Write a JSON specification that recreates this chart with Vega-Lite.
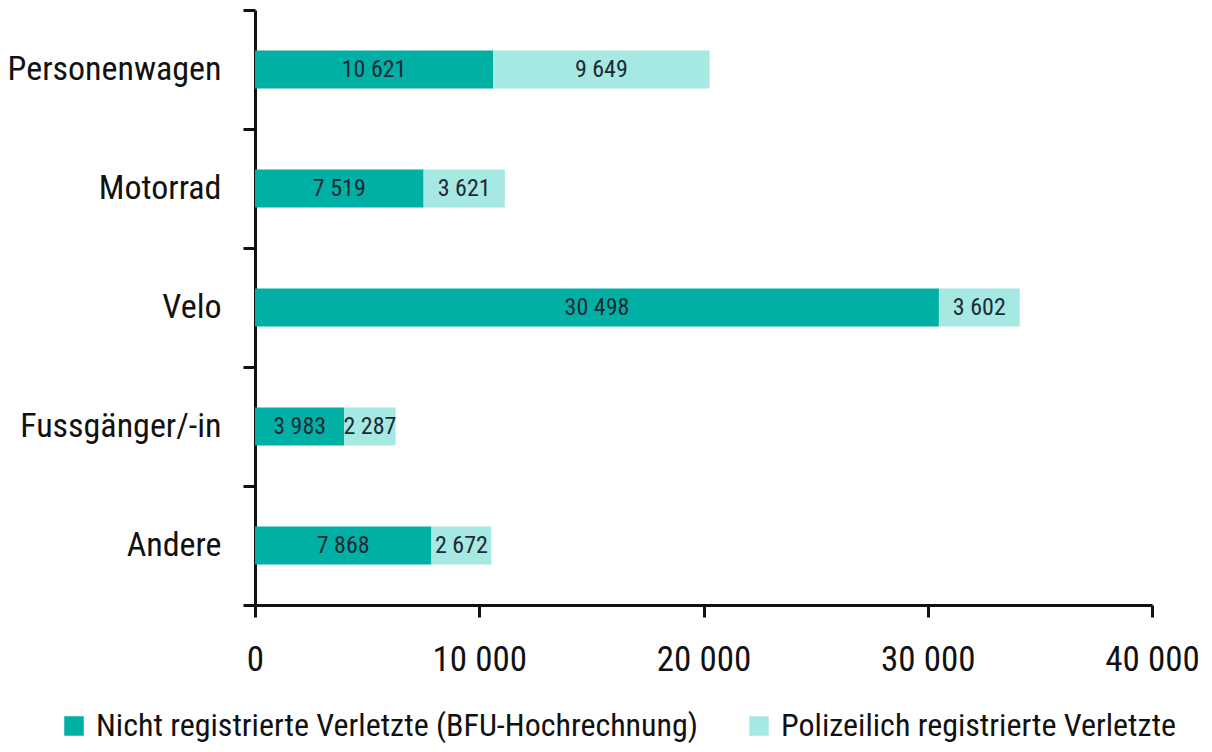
{
  "$schema": "https://vega.github.io/schema/vega-lite/v6.json",
  "width": 897,
  "height": 595,
  "autosize": {"type": "none"},
  "padding": {"left": 255, "top": 10, "right": 60, "bottom": 147},
  "background": "white",
  "config": {
    "locale": {"number": {"decimal": ",", "thousands": " ", "grouping": [3], "currency": ["", ""]}},
    "font": "Roboto Condensed, DejaVu Sans Condensed, Roboto, sans-serif",
    "view": {"stroke": null}
  },
  "data": {
    "values": [
      {"Kategorie": "Personenwagen", "Serie": "Nicht registrierte Verletzte (BFU-Hochrechnung)", "o": 1, "Wert": 10621},
      {"Kategorie": "Personenwagen", "Serie": "Polizeilich registrierte Verletzte", "o": 2, "Wert": 9649},
      {"Kategorie": "Motorrad", "Serie": "Nicht registrierte Verletzte (BFU-Hochrechnung)", "o": 1, "Wert": 7519},
      {"Kategorie": "Motorrad", "Serie": "Polizeilich registrierte Verletzte", "o": 2, "Wert": 3621},
      {"Kategorie": "Velo", "Serie": "Nicht registrierte Verletzte (BFU-Hochrechnung)", "o": 1, "Wert": 30498},
      {"Kategorie": "Velo", "Serie": "Polizeilich registrierte Verletzte", "o": 2, "Wert": 3602},
      {"Kategorie": "Fussgänger/-in", "Serie": "Nicht registrierte Verletzte (BFU-Hochrechnung)", "o": 1, "Wert": 3983},
      {"Kategorie": "Fussgänger/-in", "Serie": "Polizeilich registrierte Verletzte", "o": 2, "Wert": 2287},
      {"Kategorie": "Andere", "Serie": "Nicht registrierte Verletzte (BFU-Hochrechnung)", "o": 1, "Wert": 7868},
      {"Kategorie": "Andere", "Serie": "Polizeilich registrierte Verletzte", "o": 2, "Wert": 2672}
    ]
  },
  "transform": [
    {"stack": "Wert", "groupby": ["Kategorie"], "sort": [{"field": "o", "order": "ascending"}], "as": ["x0", "x1"]},
    {"calculate": "(datum.x0 + datum.x1) / 2", "as": "xm"}
  ],
  "encoding": {
    "y": {
      "field": "Kategorie",
      "type": "nominal",
      "sort": ["Personenwagen", "Motorrad", "Velo", "Fussgänger/-in", "Andere"],
      "scale": {"paddingInner": 0, "paddingOuter": 0},
      "axis": {
        "title": null,
        "domainColor": "#111111",
        "domainWidth": 3,
        "tickColor": "#111111",
        "tickWidth": 3,
        "tickSize": 12,
        "tickBand": "extent",
        "labelFontSize": 34,
        "labelColor": "#111111",
        "labelPadding": 22,
        "labelLimit": 400
      }
    }
  },
  "layer": [
    {
      "mark": {"type": "bar", "height": {"band": 0.32}},
      "encoding": {
        "x": {
          "field": "x0",
          "type": "quantitative",
          "scale": {"domain": [0, 40000], "nice": false},
          "axis": {
            "title": null,
            "values": [0, 10000, 20000, 30000, 40000],
            "format": ",d",
            "grid": false,
            "domainColor": "#111111",
            "domainWidth": 3,
            "tickColor": "#111111",
            "tickWidth": 3,
            "tickSize": 12,
            "labelFontSize": 35,
            "labelColor": "#111111",
            "labelPadding": 25,
            "labelFlush": false
          }
        },
        "x2": {"field": "x1"},
        "color": {
          "field": "Serie",
          "type": "nominal",
          "sort": ["Nicht registrierte Verletzte (BFU-Hochrechnung)", "Polizeilich registrierte Verletzte"],
          "scale": {"range": ["#00b0a4", "#a6e8e2"]},
          "legend": {
            "title": null,
            "orient": "none",
            "legendX": -197,
            "legendY": 700,
            "direction": "horizontal",
            "symbolType": "square",
            "symbolSize": 380,
            "symbolStrokeWidth": 0,
            "labelFontSize": 32,
            "labelColor": "#111111",
            "labelOffset": 6,
            "columnPadding": 44,
            "labelLimit": 800
          }
        }
      }
    },
    {
      "mark": {"type": "text", "fontSize": 24, "color": "#1d2b36"},
      "encoding": {
        "x": {"field": "xm", "type": "quantitative"},
        "text": {"field": "Wert", "type": "quantitative", "format": ",d"}
      }
    }
  ]
}
